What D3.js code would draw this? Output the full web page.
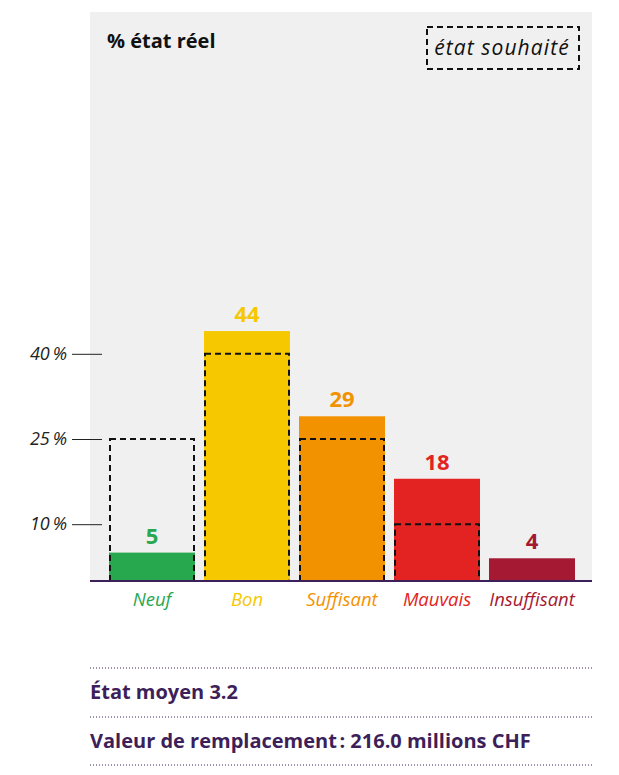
<!DOCTYPE html>
<html lang="fr">
<head>
<meta charset="utf-8">
<script src="https://cdn.jsdelivr.net/npm/d3@7"></script>
<style>
  html, body { margin: 0; padding: 0; background: #ffffff; }
  svg { display: block; font-family: "Open Sans", "Roboto", sans-serif; }
</style>
</head>
<body>
<svg id="chart" width="619" height="775"></svg>
<script>
// État des ouvrages : part réelle vs part souhaitée par classe d'état
const categories = ["Neuf", "Bon", "Suffisant", "Mauvais", "Insuffisant"];
const actualValues = [5, 44, 29, 18, 4];
const targetValues = [25, 40, 25, 10, 0];
const colors = ["#27a84f", "#f5c800", "#f39200", "#e32322", "#a61932"];
const tickValues = [10, 25, 40];
const footerLines = ["État moyen 3.2", "Valeur de remplacement\u202F: 216.0 millions CHF"];

const svg = d3.select("#chart");
const panel = { left: 90, right: 592, top: 12, bottom: 581 };

const x = d3.scaleBand()
  .domain(categories)
  .range([104.5, 579.5])
  .paddingInner(9 / 95)
  .paddingOuter(4.5 / 95);

const y = d3.scaleLinear().domain([0, 100]).range([panel.bottom, 13]);

// grey plotting panel
svg.append("rect")
  .attr("x", panel.left).attr("y", panel.top)
  .attr("width", panel.right - panel.left)
  .attr("height", panel.bottom - panel.top)
  .attr("fill", "#f0f0f0");

// left axis: short ticks with italic percentage labels
const yAxis = d3.axisLeft(y).tickValues(tickValues).tickSize(30).tickPadding(5)
  .tickFormat(d => d + "\u2009%");
const gy = svg.append("g").attr("transform", "translate(102,0)").call(yAxis);
gy.select(".domain").remove();
gy.selectAll(".tick line").attr("stroke", "#222").attr("stroke-width", 1);
gy.selectAll(".tick text")
  .attr("fill", "#222")
  .style("font-size", "18px")
  .style("font-style", "italic")
  .style("font-family", "'Open Sans', sans-serif");

// bars for the actual state
const data = categories.map((c, i) => ({ c, v: actualValues[i], t: targetValues[i], col: colors[i] }));

svg.append("g").selectAll("rect").data(data).join("rect")
  .attr("x", d => x(d.c))
  .attr("width", x.bandwidth())
  .attr("y", d => y(d.v))
  .attr("height", d => y(0) - y(d.v))
  .attr("fill", d => d.col);

// dashed outlines for the desired state
svg.append("g").selectAll("rect").data(data.filter(d => d.t > 0)).join("rect")
  .attr("x", d => x(d.c) + 1)
  .attr("width", x.bandwidth() - 2)
  .attr("y", d => y(d.t))
  .attr("height", d => y(0) - y(d.t))
  .attr("fill", "none")
  .attr("stroke", "#111")
  .attr("stroke-width", 2)
  .attr("stroke-dasharray", "6,4");

// value labels above bars
svg.append("g").selectAll("text").data(data).join("text")
  .attr("x", d => x(d.c) + x.bandwidth() / 2)
  .attr("y", d => y(d.v) - 9)
  .attr("text-anchor", "middle")
  .attr("fill", d => d.col)
  .style("font-size", "22px")
  .style("font-weight", "700")
  .text(d => d.v);

// baseline
svg.append("line")
  .attr("x1", panel.left).attr("x2", panel.right)
  .attr("y1", y(0)).attr("y2", y(0))
  .attr("stroke", "#3d1f5a").attr("stroke-width", 2);

// category labels
svg.append("g").selectAll("text").data(data).join("text")
  .attr("x", d => x(d.c) + x.bandwidth() / 2)
  .attr("y", 606)
  .attr("text-anchor", "middle")
  .attr("fill", d => d.col)
  .style("font-size", "18.5px")
  .style("font-style", "italic")
  .text(d => d.c);

// panel title
svg.append("text")
  .attr("x", 107).attr("y", 48)
  .attr("fill", "#111")
  .style("font-size", "20px")
  .style("font-weight", "700")
  .text("% état réel");

// legend for the dashed outlines
const legend = svg.append("g");
legend.append("rect")
  .attr("x", 427).attr("y", 27).attr("width", 152).attr("height", 42)
  .attr("fill", "none").attr("stroke", "#111").attr("stroke-width", 2)
  .attr("stroke-dasharray", "6,4");
legend.append("text")
  .attr("x", 502).attr("y", 55)
  .attr("text-anchor", "middle")
  .attr("fill", "#111")
  .style("font-size", "21px")
  .style("font-style", "italic")
  .style("letter-spacing", "1.1px")
  .text("état souhaité");

// footer with dotted separators
const sepY = [668, 717, 765];
svg.append("g").selectAll("line").data(sepY).join("line")
  .attr("x1", panel.left).attr("x2", panel.right)
  .attr("y1", d => d).attr("y2", d => d)
  .attr("stroke", "#3d1f5a").attr("stroke-width", 1)
  .attr("stroke-dasharray", "1,2");

svg.append("g").selectAll("text").data(footerLines).join("text")
  .attr("x", panel.left)
  .attr("y", (d, i) => 699 + i * 49)
  .attr("fill", "#3d1f5a")
  .style("font-size", "20px")
  .style("font-weight", "700")
  .text(d => d);
</script>
</body>
</html>
